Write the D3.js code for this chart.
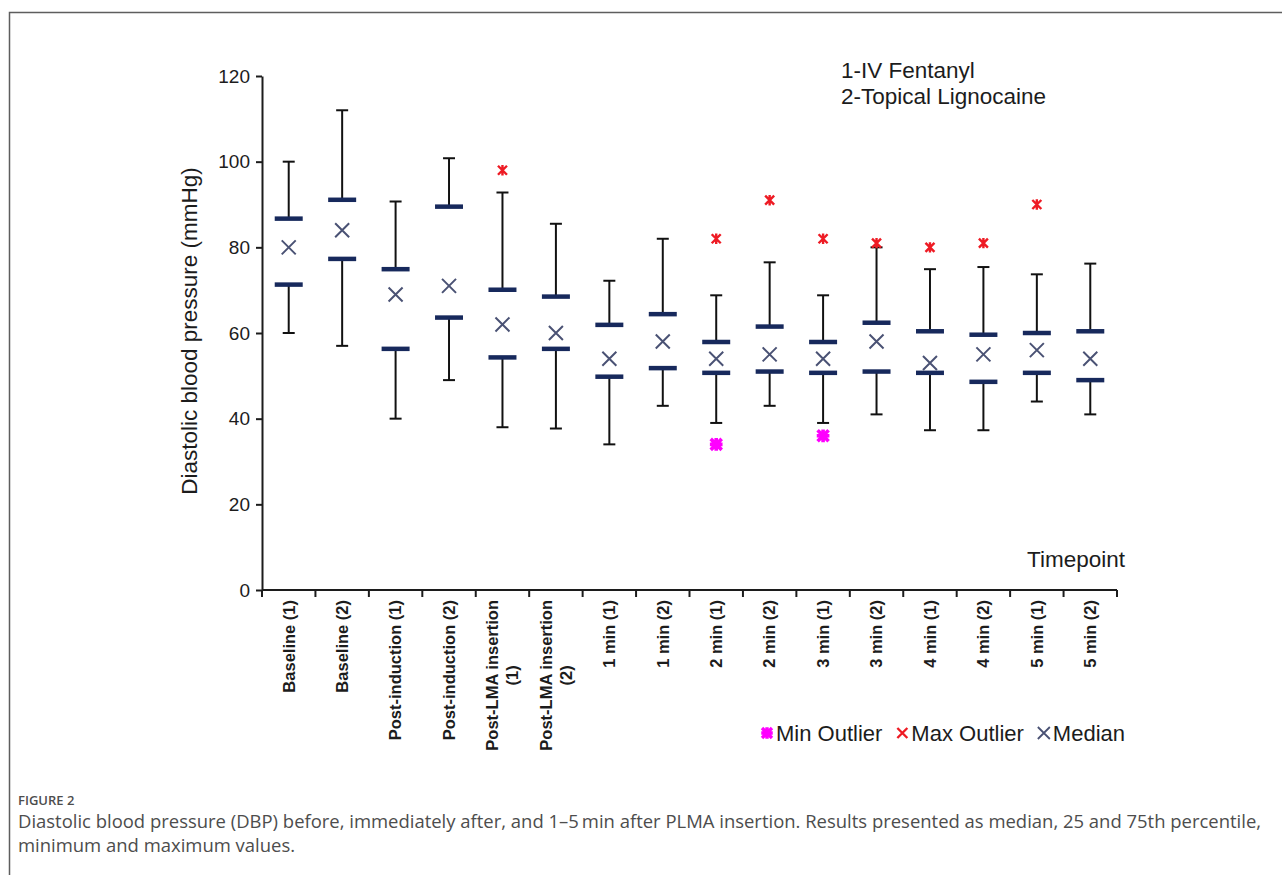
<!DOCTYPE html>
<html>
<head>
<meta charset="utf-8">
<script src="https://cdn.jsdelivr.net/npm/d3@7/dist/d3.min.js"></script>
<style>
  html, body { margin: 0; padding: 0; background: #fff; }
  svg { display: block; }
  .chart text { font-family: Arial, "Liberation Sans", sans-serif; fill: #1c1c1c; }
  .caption text { font-family: "Open Sans", "Noto Sans", sans-serif; fill: #4d4d4d; }
</style>
</head>
<body>
<svg id="fig" width="1282" height="875"></svg>
<script>
// Timepoints (group 1 = IV fentanyl, group 2 = topical lignocaine)
const categories = [
  "Baseline (1)", "Baseline (2)", "Post-induction (1)", "Post-induction (2)",
  "Post-LMA insertion (1)", "Post-LMA insertion (2)", "1 min (1)", "1 min (2)",
  "2 min (1)", "2 min (2)", "3 min (1)", "3 min (2)",
  "4 min (1)", "4 min (2)", "5 min (1)", "5 min (2)"
];
// Diastolic blood pressure summaries (mmHg)
const minValues    = [60, 57, 40, 49, 38, 37.7, 34, 43, 39, 43, 39, 41, 37.3, 37.3, 44, 41];
const q1Values     = [71.3, 77.3, 56.3, 63.6, 54.3, 56.3, 49.8, 51.8, 50.7, 51, 50.7, 51, 50.7, 48.6, 50.7, 49];
const medianValues = [80, 84, 69, 71, 62, 60, 54, 58, 54, 55, 54, 58, 53, 55, 56, 54];
const q3Values     = [86.7, 91.1, 74.9, 89.5, 70.1, 68.5, 61.9, 64.4, 57.9, 61.5, 57.9, 62.4, 60.4, 59.6, 60, 60.4];
const maxValues    = [100, 112, 90.7, 100.8, 92.8, 85.5, 72.2, 82, 68.8, 76.5, 68.8, 80, 74.9, 75.4, 73.7, 76.2];
const maxOutliers  = [null, null, null, null, 98, null, null, null, 82, 91, 82, 81, 80, 81, 90, null];
const minOutliers  = [null, null, null, null, null, null, null, null, 34, null, 36, null, null, null, null, null];
const yTicks = [0, 20, 40, 60, 80, 100, 120];

const groupNotes = ["1-IV Fentanyl", "2-Topical Lignocaine"];
const legendItems = ["Min Outlier", "Max Outlier", "Median"];
const captionLabel = "FIGURE 2";
const captionLines = [
  "Diastolic blood pressure (DBP) before, immediately after, and 1\u20135\u2009min after PLMA insertion. Results presented as median, 25 and 75th percentile,",
  "minimum and maximum values."
];

const svg = d3.select("#fig");
const C = { navy: "#17295c", median: "#4a5274", red: "#ee1b24", magenta: "#ff00ff", ink: "#1c1c1c" };

// Page frame
svg.append("path")
  .attr("d", "M9.5,875 L9.5,12.5 L1282,12.5")
  .attr("fill", "none").attr("stroke", "#5e5e5e").attr("stroke-width", 1.5);

const chart = svg.append("g").attr("class", "chart");

const x = d3.scaleBand().domain(categories).range([262, 1117]).padding(0);
const y = d3.scaleLinear().domain([0, 120]).range([590, 76]);
const cx = i => x(categories[i]) + x.bandwidth() / 2;

// Y axis
const yAxis = chart.append("g").attr("transform", "translate(262,0)")
  .call(d3.axisLeft(y).tickValues(yTicks).tickSize(6).tickSizeOuter(0).tickPadding(6));
yAxis.select(".domain").attr("stroke", C.ink).attr("stroke-width", 2);
yAxis.selectAll(".tick line").attr("stroke", C.ink).attr("stroke-width", 2);
yAxis.selectAll(".tick text").attr("font-size", 19).attr("fill", C.ink)
  .attr("font-family", "Arial, 'Liberation Sans', sans-serif");

// X axis: ticks on category boundaries
const xAxisG = chart.append("g").attr("transform", "translate(0,590)");
xAxisG.append("line").attr("x1", 262).attr("x2", 1117)
  .attr("stroke", C.ink).attr("stroke-width", 2);
const bounds = categories.map(c => x(c)).concat([x.range()[1]]);
xAxisG.selectAll("line.tk").data(bounds).join("line").attr("class", "tk")
  .attr("x1", d => d).attr("x2", d => d).attr("y1", 0).attr("y2", 7)
  .attr("stroke", C.ink).attr("stroke-width", 2);

// X labels (rotated, wrapped when long)
categories.forEach((c, i) => {
  const lines = c.length > 20 ? [c.slice(0, c.lastIndexOf(" ")), c.slice(c.lastIndexOf(" ") + 1)] : [c];
  const g = chart.append("g").attr("transform", `translate(${cx(i)},600) rotate(-90)`);
  const lh = 20;
  const first = g.append("text").attr("font-size", 16.5).attr("font-weight", "bold").attr("text-anchor", "end")
    .attr("x", 0).attr("y", (-(lines.length - 1) * lh) / 2).attr("dy", "0.35em").text(lines[0]);
  const len = first.node().getComputedTextLength();
  lines.slice(1).forEach((ln, k) => {
    g.append("text").attr("font-size", 16.5).attr("font-weight", "bold").attr("text-anchor", "middle")
      .attr("x", -len / 2).attr("y", (-(lines.length - 1) * lh) / 2 + (k + 1) * lh)
      .attr("dy", "0.35em").text(ln);
  });
});

// Axis titles and notes
chart.append("text").attr("transform", `translate(197,331) rotate(-90)`)
  .attr("text-anchor", "middle").attr("font-size", 22.5).text("Diastolic blood pressure (mmHg)");
chart.append("text").attr("x", 1125).attr("y", 567).attr("text-anchor", "end")
  .attr("font-size", 22.5).text("Timepoint");
groupNotes.forEach((t, i) => {
  chart.append("text").attr("x", 841).attr("y", 78 + i * 26).attr("font-size", 22.5).text(t);
});

// Marker shapes
function cross(g, px, py, r, color, w) {
  g.append("path").attr("d", `M${px - r},${py - r}L${px + r},${py + r}M${px - r},${py + r}L${px + r},${py - r}`)
    .attr("stroke", color).attr("stroke-width", w).attr("fill", "none");
}
function star(g, px, py, r, color, w, full) {
  let d = `M${px - r},${py - r}L${px + r},${py + r}M${px - r},${py + r}L${px + r},${py - r}M${px},${py - r * 1.15}L${px},${py + r * 1.15}`;
  if (full) d += `M${px - r * 1.15},${py}L${px + r * 1.15},${py}`;
  g.append("path").attr("d", d).attr("stroke", color).attr("stroke-width", w).attr("fill", "none");
}

const marks = chart.append("g");
categories.forEach((c, i) => {
  const px = cx(i);
  // upper whisker
  marks.append("line").attr("x1", px).attr("x2", px).attr("y1", y(q3Values[i])).attr("y2", y(maxValues[i]))
    .attr("stroke", "#111").attr("stroke-width", 2);
  marks.append("line").attr("x1", px - 6).attr("x2", px + 6).attr("y1", y(maxValues[i])).attr("y2", y(maxValues[i]))
    .attr("stroke", "#111").attr("stroke-width", 2);
  // lower whisker
  marks.append("line").attr("x1", px).attr("x2", px).attr("y1", y(q1Values[i])).attr("y2", y(minValues[i]))
    .attr("stroke", "#111").attr("stroke-width", 2);
  marks.append("line").attr("x1", px - 6).attr("x2", px + 6).attr("y1", y(minValues[i])).attr("y2", y(minValues[i]))
    .attr("stroke", "#111").attr("stroke-width", 2);
  // quartile bars
  [q1Values[i], q3Values[i]].forEach(v => {
    marks.append("line").attr("x1", px - 14).attr("x2", px + 14).attr("y1", y(v)).attr("y2", y(v))
      .attr("stroke", C.navy).attr("stroke-width", 4.5);
  });
  // median
  cross(marks, px, y(medianValues[i]), 7, C.median, 2);
  // outliers
  if (maxOutliers[i] != null) star(marks, px, y(maxOutliers[i]), 4.5, C.red, 2.4, false);
  if (minOutliers[i] != null) star(marks, px, y(minOutliers[i]), 5.5, C.magenta, 3.6, true);
});

// Legend
const lg = chart.append("g");
let lx = 760;
const ly = 733;
legendItems.forEach((t, i) => {
  if (i === 0) star(lg, lx + 7, ly, 5, C.magenta, 3.4, true);
  else if (i === 1) cross(lg, lx + 7, ly, 5, C.red, 2.4);
  else cross(lg, lx + 7, ly, 6, C.median, 1.8);
  const tx = lg.append("text").attr("x", lx + 16).attr("y", ly + 8).attr("font-size", 22).text(t);
  lx += 16 + tx.node().getComputedTextLength() + 13;
});

// Caption
const cap = svg.append("g").attr("class", "caption");
cap.append("text").attr("x", 18).attr("y", 805).attr("font-size", 13).attr("font-weight", 600)
  .attr("fill", "#5a5a5a").text(captionLabel);
const l1 = cap.append("text").attr("x", 18).attr("y", 828).attr("font-size", 16).text(captionLines[0]);
const w1 = l1.node().getComputedTextLength();
const fs = 16 * 1244 / w1;
l1.attr("font-size", fs);
cap.append("text").attr("x", 18).attr("y", 852).attr("font-size", fs).text(captionLines[1]);
</script>
</body>
</html>
